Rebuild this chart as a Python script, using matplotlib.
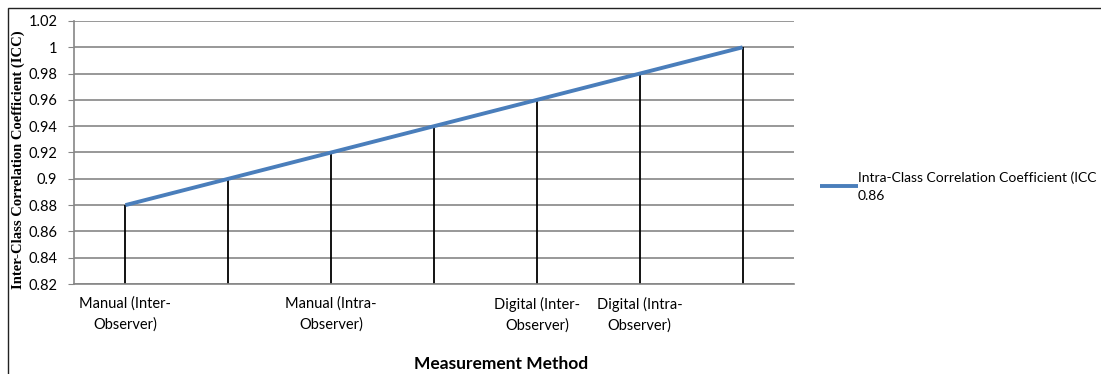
import numpy as np
import matplotlib
matplotlib.use("Agg")
import matplotlib.pyplot as plt
from matplotlib.patches import Rectangle

# data
categories = ['Manual (Inter-\nObserver)', '', 'Manual (Intra-\nObserver)', '',
              'Digital (Inter-\nObserver)', 'Digital (Intra-\nObserver)', '']
icc_values = [0.88, 0.90, 0.92, 0.94, 0.96, 0.98, 1.00]
y_ticks = [0.82, 0.84, 0.86, 0.88, 0.90, 0.92, 0.94, 0.96, 0.98, 1.00, 1.02]
y_tick_labels = ['0.82', '0.84', '0.86', '0.88', '0.9', '0.92', '0.94', '0.96', '0.98', '1', '1.02']
series_name = 'Intra-Class Correlation Coefficient (ICC\n0.86'

plt.rcParams['font.family'] = ['Lato', 'DejaVu Sans']

W, H = 1101, 374
fig = plt.figure(figsize=(W / 100, H / 100), dpi=100)
ax = fig.add_axes([74 / W, 1 - 284 / H, (794 - 74) / W, (284 - 21) / H])

x = np.arange(1, len(icc_values) + 1)
grid_col = '#868686'

for yt in y_ticks:
    ax.axhline(yt, color=grid_col, lw=1.2, zorder=1)

# drop lines
ax.vlines(x, 0.82, icc_values, colors='black', lw=1.3, zorder=2)
line, = ax.plot(x, icc_values, color='#4a7ebb', lw=2.8, zorder=3, solid_capstyle='butt')

ax.set_xlim(0.5, len(icc_values) + 0.5)
ax.set_ylim(0.82, 1.02)
ax.set_yticks(y_ticks)
ax.set_yticklabels(y_tick_labels, fontsize=10.5)
ax.set_xticks(x)
ax.set_xticklabels(categories, fontsize=10.5, linespacing=1.6)
ax.tick_params(axis='x', length=0, pad=9)
ax.tick_params(axis='y', length=4, color=grid_col, pad=8)
for s in ['top', 'right']:
    ax.spines[s].set_visible(False)
ax.spines['left'].set_color(grid_col)
ax.spines['bottom'].set_color(grid_col)
ax.spines['left'].set_linewidth(1.2)
ax.spines['bottom'].set_linewidth(1.2)

fig.text(18 / W, 1 - 160 / H, 'Inter-Class Correlation Coefficient (ICC)', rotation=90,
         ha='center', va='center', fontsize=10.5, fontweight='bold', family='Liberation Serif')
fig.text(501 / W, 1 - 364 / H, 'Measurement Method', ha='center', va='center',
         fontsize=12.5, fontweight='bold')

leg = fig.legend([line], [series_name], loc='upper left', bbox_to_anchor=(820 / W, 1 - 171 / H),
                 frameon=False, fontsize=10, handlelength=2.7, handletextpad=0.0,
                 borderpad=0, borderaxespad=0)
for t in leg.get_texts():
    t.set_linespacing(1.6)

# outer frame (top and left visible)
fig.patches.append(Rectangle((8 / W, -0.1), 1.2, 1 - 8 / H + 0.1, transform=fig.transFigure,
                             fill=False, edgecolor='#222222', lw=1.0))

fig.savefig('out.png', dpi=100)
